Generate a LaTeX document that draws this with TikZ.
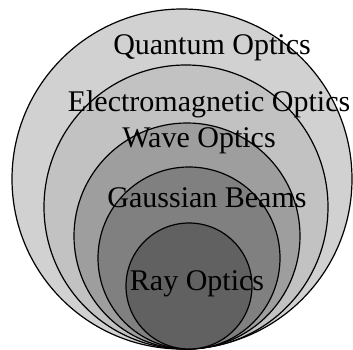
\documentclass[tikz,border=0pt]{standalone}
\usepackage{fontspec}
\setmainfont{Liberation Serif}
\usepackage{xcolor}
\definecolor{cQuantum}{gray}{0.82}
\definecolor{cEM}{gray}{0.76}
\definecolor{cWave}{gray}{0.62}
\definecolor{cGauss}{gray}{0.50}
\definecolor{cRay}{gray}{0.38}
\usepackage{tikz}
\usetikzlibrary{positioning}
\tikzset{
  node-ring/.style={draw=black,line width=1.2pt,circle,inner sep=0pt},
  node-label/.style={anchor=base,inner sep=0pt,font=\fontsize{30}{36}\selectfont},
}
\begin{document}
\begin{tikzpicture}[x=1pt,y=-1pt]
  \useasboundingbox (0,0) rectangle (353,350);
  % nested theories, all touching at the bottom
  \node[node-ring,fill=cQuantum,minimum size=340pt] (quantum) at (182,179) {};
  \node[node-ring,fill=cEM,minimum size=284pt] (em) at (186,207) {};
  \node[node-ring,fill=cWave,minimum size=226pt] (wave) at (187,236) {};
  \node[node-ring,fill=cGauss,minimum size=182pt] (gauss) at (189,258) {};
  \node[node-ring,fill=cRay,minimum size=126pt] (ray) at (189,286) {};
  % labels
  \node[node-label] (quantum-text) at (212,55) {Quantum Optics};
  \node[node-label] (em-text) at (209,112) {Electromagnetic Optics};
  \node[node-label] (wave-text) at (199,147) {Wave Optics};
  \node[node-label] (gauss-text) at (207,207) {Gaussian Beams};
  \node[node-label] (ray-text) at (197,290) {Ray Optics};
\end{tikzpicture}
\end{document}
